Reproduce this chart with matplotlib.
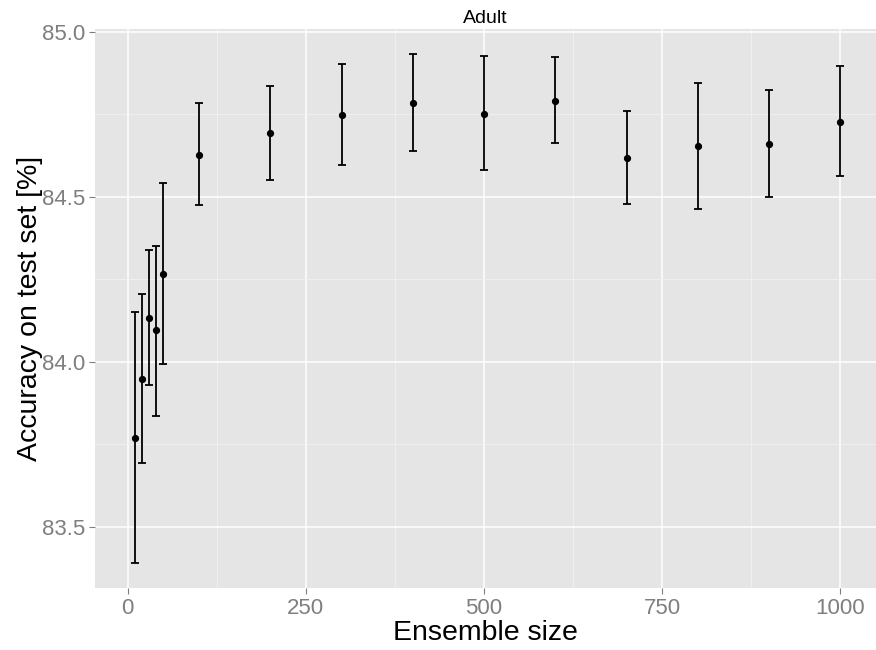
import numpy as np
import matplotlib
matplotlib.use("Agg")
import matplotlib.pyplot as plt
from matplotlib.ticker import MultipleLocator

plt.rcParams["font.family"] = ["Liberation Sans", "DejaVu Sans"]

# ensemble size vs. mean accuracy with upper/lower bounds
ensemble_size = [10, 20, 30, 40, 50, 100, 200, 300, 400, 500, 600, 700, 800, 900, 1000]
acc_mean = [83.771, 83.949, 84.134, 84.096, 84.268, 84.628, 84.695, 84.749, 84.786,
            84.752, 84.792, 84.619, 84.655, 84.662, 84.728]
acc_upper = [84.152, 84.205, 84.339, 84.352, 84.543, 84.784, 84.837, 84.902, 84.932,
             84.928, 84.925, 84.761, 84.845, 84.823, 84.896]
acc_lower = [83.392, 83.694, 83.930, 83.837, 83.994, 84.475, 84.552, 84.597, 84.639,
             84.581, 84.663, 84.479, 84.463, 84.500, 84.563]

x = np.array(ensemble_size)
y = np.array(acc_mean)
yerr = np.vstack([y - np.array(acc_lower), np.array(acc_upper) - y])

fig = plt.figure(figsize=(8.76, 6.5), dpi=100)
ax = fig.add_axes([95 / 876, 62 / 650, 781 / 876, 559 / 650])

# ggplot-like grey panel
ax.set_facecolor("#E5E5E5")
for s in ax.spines.values():
    s.set_visible(False)

ax.set_xlim(-46, 1050)
ax.set_ylim(83.315, 85.009)
ax.xaxis.set_major_locator(MultipleLocator(250))
ax.xaxis.set_minor_locator(MultipleLocator(125))
ax.yaxis.set_major_locator(MultipleLocator(0.5))
ax.yaxis.set_minor_locator(MultipleLocator(0.25))
ax.set_yticks([83.5, 84.0, 84.5, 85.0])
ax.set_yticklabels(["83.5", "84.0", "84.5", "85.0"])

ax.grid(which="major", color="white", linewidth=1.1)
ax.grid(which="minor", color="#F2F2F2", linewidth=0.6)
ax.set_axisbelow(True)

ax.tick_params(which="major", length=4, width=0.8, color="#7F7F7F",
               labelcolor="#7F7F7F", labelsize=16, pad=3)
ax.tick_params(which="minor", length=0)

ax.errorbar(x, y, yerr=yerr, fmt="o", color="black", markersize=4.2,
            elinewidth=1.3, capsize=3, capthick=1.3, zorder=3)

ax.set_title("Adult", fontsize=14, pad=4)
ax.set_xlabel("Ensemble size", fontsize=20.5, va="center")
ax.xaxis.set_label_coords(0.5, -0.081)
ax.set_ylabel("Accuracy on test set [%]", fontsize=20.5, va="center")
ax.yaxis.set_label_coords(-0.0832, 0.5)

fig.savefig("out.png", dpi=100)
